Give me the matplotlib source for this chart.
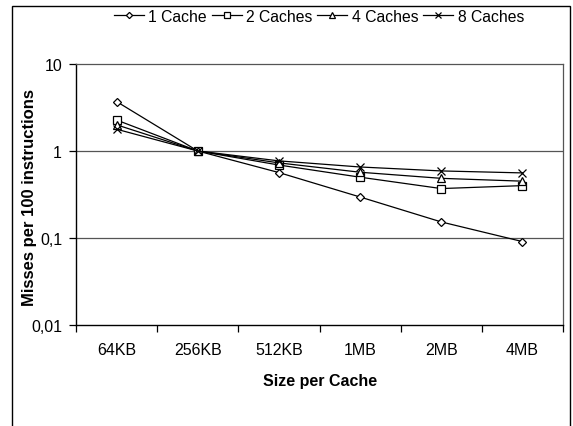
import matplotlib
matplotlib.use("Agg")
import matplotlib.pyplot as plt
from matplotlib.patches import Rectangle
from matplotlib.ticker import FixedLocator, NullLocator

plt.rcParams['font.family'] = ['Liberation Sans', 'DejaVu Sans']

categories = ["64KB", "256KB", "512KB", "1MB", "2MB", "4MB"]
series_names = ["1 Cache", "2 Caches", "4 Caches", "8 Caches"]
cache1 = [3.7, 1.0, 0.565, 0.296, 0.153, 0.091]
cache2 = [2.27, 1.0, 0.69, 0.50, 0.37, 0.40]
cache4 = [2.0, 1.0, 0.73, 0.57, 0.485, 0.45]
cache8 = [1.78, 1.0, 0.77, 0.655, 0.59, 0.56]
ytick_vals = [0.01, 0.1, 1, 10]
ytick_labels = ["0,01", "0,1", "1", "10"]

W, H = 573, 427
fig = plt.figure(figsize=(W / 100, H / 100), dpi=100)
ax = fig.add_axes([76 / W, 1 - 326 / H, (563 - 76) / W, (326 - 65) / H])

xs = [i + 0.5 for i in range(len(categories))]
styles = [
    (cache1, "D", 4.2),
    (cache2, "s", 5.5),
    (cache4, "^", 5.5),
    (cache8, "x", 6.0),
]
handles = []
for (vals, mk, ms), name in zip(styles, series_names):
    h, = ax.plot(xs, vals, color="black", lw=0.9, marker=mk, ms=ms,
                 mfc="white", mec="black", mew=0.9, label=name, zorder=3)
    handles.append(h)

ax.set_yscale("log")
ax.set_ylim(0.01, 10)
ax.set_xlim(0, len(categories))
ax.yaxis.set_major_locator(FixedLocator(ytick_vals))
ax.yaxis.set_minor_locator(NullLocator())
ax.set_yticklabels(ytick_labels)
for v in ytick_vals[1:3]:
    ax.axhline(v, color="#555555", lw=0.9, zorder=1)

ax.set_xticks(range(len(categories) + 1))
ax.set_xticklabels([])
ax.set_xticks(xs, minor=True)
ax.set_xticklabels(categories, minor=True)
ax.tick_params(axis="x", which="major", direction="out", length=5, width=0.9, color="black")
ax.tick_params(axis="x", which="minor", length=0, pad=12.5, labelsize=11.5)
ax.tick_params(axis="y", which="major", direction="out", length=5, width=0.9, labelsize=11.5, pad=5)

for s in ["left", "bottom"]:
    ax.spines[s].set_color("black")
    ax.spines[s].set_linewidth(1.0)
for s in ["top", "right"]:
    ax.spines[s].set_color("#555555")
    ax.spines[s].set_linewidth(0.9)

fig.text(30 / W, 1 - 198 / H, "Misses per 100 instructions", rotation=90,
         ha="center", va="center", fontsize=12, fontweight="bold")
fig.text(320 / W, 1 - 382 / H, "Size per Cache", ha="center", va="center",
         fontsize=11.5, fontweight="bold")

fig.legend(handles=handles, labels=series_names, loc="center", ncol=4,
           bbox_to_anchor=(319 / W, 1 - 17 / H), frameon=False, fontsize=11.3,
           handlelength=1.9, handletextpad=0.3, columnspacing=0.3, markerscale=0.75)

fig.patches.append(Rectangle((12 / W, -0.1), (570 - 12) / W, 1.1 - 7 / H,
                             transform=fig.transFigure, fill=False,
                             edgecolor="black", lw=1.0))

fig.savefig("out.png", dpi=100)
